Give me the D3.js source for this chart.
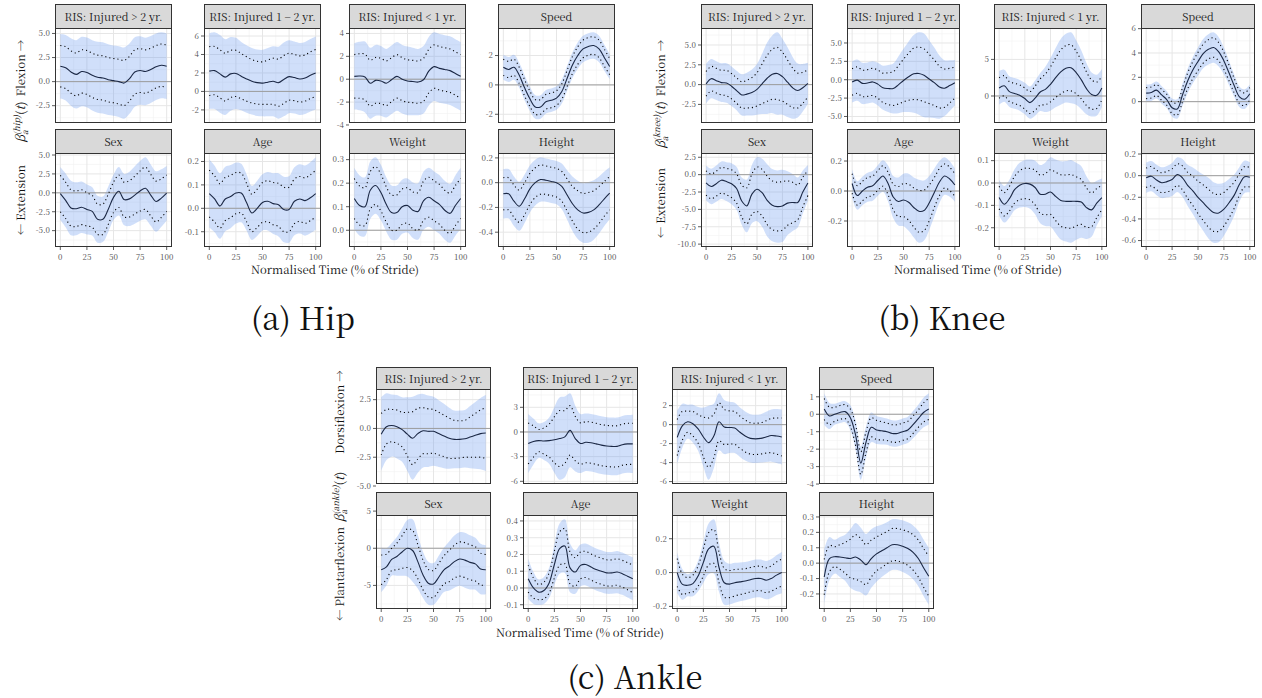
<!DOCTYPE html>
<html lang="en">
<head>
<meta charset="UTF-8">
<title>Functional regression coefficients</title>
<script src="https://cdnjs.cloudflare.com/ajax/libs/d3/7.8.5/d3.min.js"></script>
<style>
  body { margin: 0; background: #fff; }
  svg { display: block; }
</style>
</head>
<body>
<svg id="fig" width="1262" height="698"></svg>
<script>
// normalised stride positions (% of stride)
const stride = [0, 5, 10, 15, 20, 25, 30, 35, 40, 45, 50, 55, 60, 65, 70, 75, 80, 85, 90, 95, 100];
const facetLabels = ["RIS: Injured > 2 yr.", "RIS: Injured 1 \u2212 2 yr.", "RIS: Injured < 1 yr.", "Speed",
                     "Sex", "Age", "Weight", "Height"];

// ---- hip: coefficient estimate, pointwise half-width, simultaneous half-width
const hipMean = [
  [1.6,1.45,1.0,0.75,1.05,0.95,0.65,0.45,0.38,0.2,0.1,0.0,-0.15,0.3,1.0,1.15,1.05,1.25,1.55,1.7,1.6],
  [2.2,2.25,1.9,1.55,1.9,1.95,1.65,1.35,1.1,0.95,0.9,1.0,1.1,0.95,1.3,1.6,1.5,1.35,1.45,1.75,2.0],
  [0.25,0.28,0.2,-0.35,-0.1,-0.15,-0.35,-0.05,0.25,0.0,-0.15,-0.2,-0.25,-0.05,0.7,1.1,0.95,0.85,0.75,0.5,0.25],
  [1.2,1.05,1.2,0.65,-0.2,-0.95,-1.5,-1.5,-1.15,-1.05,-0.9,-0.45,0.45,1.35,2.0,2.45,2.62,2.68,2.45,1.85,1.25],
  [-0.1,-1.0,-2.0,-2.1,-1.9,-2.2,-2.45,-3.5,-3.5,-2.2,-0.6,0.2,-0.9,-0.8,-0.3,0.25,0.6,-0.3,-1.15,-0.7,-0.05],
  [0.063,0.04,0.01,0.04,0.05,0.065,0.065,0.025,-0.02,0.0,0.025,0.03,0.02,0.015,-0.005,-0.005,0.03,0.04,0.033,0.045,0.063],
  [0.135,0.105,0.1,0.17,0.19,0.16,0.11,0.075,0.075,0.1,0.105,0.085,0.08,0.125,0.14,0.125,0.11,0.085,0.072,0.105,0.135],
  [-0.09,-0.09,-0.15,-0.19,-0.13,-0.05,0.0,0.025,0.02,0.01,0.0,-0.03,-0.1,-0.17,-0.22,-0.245,-0.24,-0.22,-0.18,-0.13,-0.085]
];
const hipPW = [
  [2.15,2.18,2.2,2.22,2.25,2.28,2.3,2.3,2.3,2.3,2.3,2.32,2.35,2.32,2.3,2.28,2.25,2.22,2.2,2.2,2.2],
  [2.65,2.62,2.6,2.58,2.55,2.5,2.45,2.4,2.35,2.32,2.3,2.4,2.5,2.55,2.6,2.55,2.5,2.5,2.5,2.52,2.55],
  [1.9,1.95,2.0,2.0,2.0,1.98,1.95,1.92,1.9,1.88,1.85,1.85,1.85,1.88,1.9,1.9,1.9,1.9,1.9,1.9,1.9],
  [0.55,0.55,0.55,0.55,0.55,0.52,0.5,0.5,0.5,0.5,0.5,0.52,0.55,0.58,0.6,0.6,0.6,0.6,0.6,0.58,0.55],
  [2.4,2.4,2.4,2.35,2.3,2.2,2.1,2.0,2.0,2.0,2.0,2.15,2.3,2.4,2.5,2.65,2.8,2.75,2.7,2.55,2.4],
  [0.1,0.098,0.095,0.092,0.09,0.088,0.085,0.082,0.08,0.082,0.085,0.088,0.09,0.092,0.095,0.095,0.095,0.096,0.097,0.098,0.1],
  [0.085,0.083,0.08,0.08,0.08,0.078,0.075,0.075,0.075,0.075,0.075,0.078,0.08,0.083,0.085,0.085,0.085,0.085,0.085,0.085,0.085],
  [0.13,0.13,0.13,0.13,0.13,0.125,0.12,0.118,0.115,0.115,0.115,0.12,0.13,0.14,0.155,0.158,0.16,0.155,0.15,0.14,0.135]
];
const hipSW = [
  [3.35,3.4,3.5,3.55,3.6,3.62,3.65,3.68,3.7,3.68,3.65,3.68,3.7,3.65,3.6,3.55,3.5,3.48,3.45,3.42,3.4],
  [4.1,4.15,4.2,4.1,4.0,3.85,3.7,3.65,3.6,3.6,3.6,3.7,3.8,3.9,4.0,3.95,3.9,3.9,3.9,3.92,3.95],
  [2.9,3.0,3.1,3.1,3.1,3.05,3.0,3.0,3.0,3.0,3.0,2.95,2.9,2.95,3.0,3.0,3.0,3.0,3.0,3.0,3.0],
  [0.85,0.85,0.85,0.85,0.85,0.82,0.8,0.8,0.8,0.8,0.8,0.82,0.85,0.88,0.9,0.9,0.9,0.9,0.9,0.88,0.85],
  [3.5,3.55,3.6,3.5,3.4,3.3,3.2,3.1,3.0,3.0,3.0,3.2,3.4,3.6,3.8,3.95,4.1,4.05,4.0,3.8,3.6],
  [0.145,0.142,0.14,0.138,0.135,0.13,0.125,0.12,0.115,0.118,0.12,0.125,0.13,0.135,0.14,0.142,0.145,0.148,0.15,0.152,0.155],
  [0.13,0.128,0.125,0.122,0.12,0.118,0.115,0.115,0.115,0.115,0.115,0.118,0.12,0.123,0.125,0.125,0.125,0.125,0.125,0.128,0.13],
  [0.2,0.2,0.2,0.198,0.195,0.19,0.185,0.18,0.175,0.175,0.175,0.185,0.2,0.22,0.235,0.24,0.245,0.24,0.23,0.22,0.21]
];
const hipTicks = [
  ["-2.5","0.0","2.5","5.0"], ["-2","0","2","4","6"], ["-4","-2","0","2","4"], ["-2","0","2"],
  ["-5.0","-2.5","0.0","2.5","5.0"], ["-0.1","0.0","0.1","0.2"], ["0.0","0.1","0.2","0.3"], ["-0.4","-0.2","0.0","0.2"]
];

// ---- knee
const kneeMean = [
  [0.1,0.75,0.5,0.25,0.2,-0.2,-0.75,-1.3,-1.2,-1.0,-0.6,0.1,0.8,1.3,1.4,1.0,0.3,-0.4,-0.75,-0.4,0.15],
  [-0.3,-0.05,-0.5,-0.45,-0.3,-0.6,-1.1,-1.2,-1.2,-0.7,-0.1,0.4,0.8,0.85,0.6,0.1,-0.4,-1.0,-1.15,-0.8,-0.4],
  [1.1,1.4,0.6,0.35,0.1,-0.35,-0.9,-0.3,0.55,0.9,1.6,2.5,3.3,3.8,3.85,3.2,2.2,1.0,0.2,0.1,1.1],
  [0.7,0.75,0.95,0.55,0.15,-0.5,-0.6,0.55,1.7,2.6,3.3,3.95,4.3,4.45,4.1,3.35,2.35,1.3,0.4,0.2,0.65],
  [-1.2,-1.7,-1.3,-0.8,-1.0,-1.3,-2.0,-3.8,-4.5,-2.8,-2.1,-2.6,-3.7,-4.4,-4.6,-4.5,-4.1,-4.0,-4.0,-2.5,-1.2],
  [0.05,-0.03,0.0,0.025,0.035,0.07,0.1,0.05,-0.04,-0.07,-0.06,-0.075,-0.11,-0.135,-0.13,-0.08,-0.01,0.06,0.1,0.08,0.04],
  [-0.065,-0.095,-0.07,-0.03,-0.01,-0.002,-0.005,-0.02,-0.05,-0.05,-0.04,-0.06,-0.078,-0.082,-0.082,-0.082,-0.085,-0.11,-0.12,-0.09,-0.065],
  [-0.02,-0.005,-0.04,-0.065,-0.055,-0.035,0.01,-0.02,-0.09,-0.14,-0.2,-0.25,-0.3,-0.34,-0.345,-0.31,-0.25,-0.18,-0.08,-0.01,-0.015]
];
const kneePW = [
  [1.55,1.55,1.55,1.55,1.6,1.6,1.6,1.65,1.75,1.9,2.1,2.5,2.9,3.15,3.3,3.1,2.8,2.5,2.2,1.95,1.7],
  [1.8,1.8,1.8,1.82,1.85,1.92,2.0,2.15,2.3,2.6,2.9,3.2,3.5,3.6,3.6,3.35,3.1,2.85,2.6,2.35,2.1],
  [1.4,1.38,1.35,1.38,1.4,1.45,1.5,1.65,1.8,2.1,2.4,2.7,3.0,3.1,3.15,2.9,2.6,2.3,2.0,1.8,1.6],
  [0.45,0.45,0.45,0.45,0.45,0.48,0.5,0.58,0.65,0.7,0.75,0.78,0.8,0.8,0.75,0.7,0.65,0.6,0.55,0.52,0.5],
  [1.75,1.78,1.8,1.85,1.9,2.0,2.1,2.3,2.6,2.9,3.2,3.35,3.5,3.5,3.5,3.5,3.2,2.9,2.5,2.15,1.8],
  [0.065,0.065,0.065,0.065,0.065,0.066,0.068,0.075,0.085,0.1,0.11,0.12,0.13,0.14,0.135,0.12,0.1,0.09,0.08,0.078,0.075],
  [0.05,0.052,0.055,0.06,0.065,0.068,0.07,0.078,0.085,0.092,0.1,0.108,0.115,0.118,0.12,0.11,0.1,0.088,0.075,0.065,0.055],
  [0.09,0.09,0.09,0.092,0.095,0.098,0.1,0.11,0.12,0.135,0.15,0.165,0.175,0.175,0.17,0.155,0.14,0.12,0.1,0.095,0.09]
];
const kneeSW = [
  [2.5,2.48,2.45,2.45,2.5,2.5,2.5,2.6,2.7,2.9,3.2,3.8,4.5,4.9,5.2,4.8,4.4,3.9,3.4,3.0,2.6],
  [2.8,2.8,2.8,2.8,2.8,2.9,3.0,3.2,3.4,3.85,4.3,4.8,5.3,5.6,5.7,5.25,4.8,4.3,3.8,3.45,3.1],
  [2.3,2.2,2.1,2.1,2.1,2.15,2.2,2.4,2.6,3.1,3.6,4.05,4.5,4.7,4.85,4.4,4.0,3.5,3.0,2.8,2.6],
  [0.7,0.7,0.7,0.72,0.7,0.75,0.8,0.9,1.0,1.08,1.15,1.2,1.25,1.25,1.2,1.1,1.0,0.92,0.85,0.8,0.75],
  [2.5,2.55,2.6,2.7,2.8,2.95,3.1,3.4,3.8,4.2,4.6,4.9,5.2,5.2,5.2,5.2,4.6,4.1,3.6,3.1,2.6],
  [0.095,0.095,0.095,0.097,0.1,0.102,0.105,0.12,0.14,0.16,0.175,0.19,0.2,0.21,0.2,0.18,0.16,0.14,0.125,0.118,0.11],
  [0.08,0.082,0.085,0.092,0.1,0.105,0.11,0.12,0.13,0.142,0.155,0.165,0.175,0.18,0.185,0.172,0.16,0.14,0.12,0.1,0.085],
  [0.14,0.14,0.14,0.142,0.145,0.152,0.16,0.175,0.19,0.215,0.24,0.26,0.28,0.28,0.27,0.245,0.22,0.19,0.16,0.15,0.14]
];
const kneeTicks = [
  ["-2.5","0.0","2.5","5.0"], ["-5.0","-2.5","0.0","2.5","5.0"], ["0","5"], ["0","2","4","6"],
  ["-10.0","-7.5","-5.0","-2.5","0.0","2.5"], ["-0.2","0.0","0.2"], ["-0.2","-0.1","0.0","0.1"], ["-0.6","-0.4","-0.2","0.0","0.2"]
];

// ---- ankle
const ankleMean = [
  [-0.5,0.15,0.25,0.15,-0.1,-0.5,-0.85,-0.45,-0.2,-0.25,-0.25,-0.45,-0.65,-0.85,-0.95,-0.95,-0.9,-0.75,-0.6,-0.45,-0.4],
  [-1.4,-1.15,-1.05,-1.1,-1.05,-0.95,-0.8,-0.6,0.2,-0.8,-1.4,-1.25,-1.3,-1.45,-1.6,-1.7,-1.75,-1.75,-1.55,-1.45,-1.45],
  [-1.35,-0.1,0.3,0.1,-0.45,-1.3,-1.9,-1.2,0.3,-0.25,-0.3,-0.35,-0.8,-1.2,-1.45,-1.5,-1.45,-1.3,-1.15,-1.2,-1.3],
  [0.3,-0.1,0.0,0.1,0.15,-0.2,-1.2,-2.8,-1.6,-0.75,-0.9,-0.95,-1.0,-1.1,-1.1,-1.0,-0.9,-0.6,-0.25,0.1,0.3],
  [-2.9,-2.5,-1.5,-1.1,-0.5,0.0,-0.3,-1.8,-3.6,-4.7,-4.8,-3.9,-2.9,-2.4,-1.8,-1.45,-1.6,-1.9,-2.1,-2.8,-2.9],
  [0.055,0.0,-0.025,-0.015,0.03,0.14,0.235,0.25,0.12,0.095,0.135,0.14,0.125,0.11,0.1,0.09,0.09,0.095,0.085,0.07,0.055],
  [0.0,-0.07,-0.075,-0.065,-0.02,0.06,0.14,0.155,0.03,-0.06,-0.068,-0.06,-0.055,-0.05,-0.042,-0.035,-0.035,-0.045,-0.035,-0.015,0.0],
  [-0.09,0.03,0.042,0.04,0.035,0.03,0.04,0.02,-0.01,0.03,0.06,0.08,0.1,0.12,0.12,0.11,0.095,0.07,0.03,-0.03,-0.085]
];
const anklePW = [
  [1.8,1.5,1.4,1.45,1.5,1.9,2.3,2.2,2.0,1.95,1.9,1.85,1.8,1.75,1.65,1.62,1.6,1.75,1.9,2.05,2.2],
  [2.5,1.9,1.35,1.6,2.0,2.8,3.4,3.2,3.0,2.7,2.5,2.5,2.5,2.5,2.5,2.5,2.5,2.5,2.5,2.5,2.5],
  [1.9,1.5,1.1,1.3,1.5,2.1,2.6,2.3,2.0,1.85,1.75,1.72,1.7,1.68,1.65,1.65,1.65,1.7,1.8,1.9,2.0],
  [0.6,0.5,0.4,0.4,0.4,0.5,0.6,0.65,0.6,0.55,0.55,0.52,0.5,0.5,0.5,0.5,0.5,0.5,0.5,0.55,0.6],
  [2.0,1.7,1.5,1.8,2.2,2.6,2.7,2.3,2.0,1.85,1.8,1.85,1.9,2.1,2.2,2.3,2.35,2.35,2.3,2.15,2.05],
  [0.08,0.06,0.045,0.05,0.06,0.08,0.1,0.105,0.095,0.085,0.08,0.078,0.078,0.078,0.078,0.078,0.078,0.079,0.08,0.081,0.082],
  [0.082,0.06,0.045,0.05,0.06,0.08,0.095,0.1,0.09,0.085,0.08,0.078,0.075,0.073,0.072,0.072,0.072,0.073,0.075,0.078,0.08],
  [0.115,0.085,0.065,0.08,0.1,0.125,0.145,0.14,0.13,0.12,0.11,0.108,0.105,0.105,0.105,0.107,0.11,0.115,0.12,0.125,0.13]
];
const ankleSW = [
  [3.2,2.9,2.7,2.75,2.8,3.2,3.6,3.4,3.2,3.1,3.0,2.9,2.8,2.65,2.5,2.5,2.5,2.7,2.9,3.1,3.3],
  [3.6,2.8,2.1,2.3,2.8,4.0,5.0,4.9,4.5,4.0,3.6,3.5,3.5,3.5,3.5,3.5,3.5,3.5,3.5,3.5,3.55],
  [2.8,2.3,1.8,2.0,2.3,3.1,3.9,3.4,3.0,2.85,2.7,2.65,2.6,2.58,2.55,2.55,2.55,2.65,2.75,2.85,2.9],
  [0.9,0.75,0.6,0.6,0.6,0.72,0.85,0.95,0.9,0.85,0.8,0.78,0.75,0.75,0.75,0.75,0.75,0.78,0.8,0.85,0.9],
  [3.0,2.5,2.2,2.6,3.2,3.8,4.2,3.6,3.1,2.9,2.8,2.9,3.0,3.3,3.5,3.6,3.7,3.65,3.5,3.4,3.3],
  [0.12,0.095,0.075,0.08,0.09,0.12,0.15,0.16,0.145,0.13,0.125,0.125,0.125,0.125,0.125,0.125,0.125,0.126,0.126,0.127,0.128],
  [0.12,0.09,0.065,0.075,0.09,0.12,0.15,0.16,0.145,0.13,0.12,0.118,0.115,0.113,0.112,0.112,0.112,0.113,0.115,0.118,0.122],
  [0.18,0.14,0.11,0.13,0.15,0.19,0.22,0.21,0.2,0.19,0.18,0.17,0.165,0.165,0.165,0.168,0.17,0.175,0.18,0.183,0.185]
];
const ankleTicks = [
  ["-5.0","-2.5","0.0","2.5"], ["-6","-3","0","3"], ["-6","-4","-2","0","2"], ["-4","-3","-2","-1","0","1"],
  ["-5","0","5"], ["-0.1","0.0","0.1","0.2","0.3","0.4"], ["-0.2","0.0","0.2"], ["-0.2","-0.1","0.0","0.1","0.2","0.3"]
];
const xTicks = [0, 25, 50, 75, 100];

// layout of the three sub-figures
const figures = [
  { joint: "hip", mean: hipMean, pw: hipPW, sw: hipSW, ticks: hipTicks,
    cols: [[55,172],[204,321],[349,466],[498,615]], rows: [[4,28,123],[129,153,247]],
    labX: 25, posLab: ["Flexion \u2192", 68], negLab: ["\u2190 Extension", 200], betaY: 122,
    xTitle: [335, 274], caption: ["(a) Hip", 303, 330] },
  { joint: "knee", mean: kneeMean, pw: kneePW, sw: kneeSW, ticks: kneeTicks,
    cols: [[701,813],[847,960],[994,1107],[1141,1255]], rows: [[4,28,123],[129,153,247]],
    labX: 665, posLab: ["Flexion \u2192", 68], negLab: ["\u2190 Extension", 203], betaY: 125,
    xTitle: [978, 274], caption: ["(b) Knee", 942, 330] },
  { joint: "ankle", mean: ankleMean, pw: anklePW, sw: ankleSW, ticks: ankleTicks,
    cols: [[376,491],[523,638],[672,787],[819,934]], rows: [[367,389,484],[492,515,609]],
    labX: 344, posLab: ["Dorsiflexion \u2192", 412], negLab: ["\u2190 Plantarflexion", 574], betaY: 497,
    xTitle: [580, 637], caption: ["(c) Ankle", 635, 689] }
];

const FONT = '"Noto Serif CJK SC", "Liberation Serif", serif';
const svg = d3.select("#fig").style("font-family", FONT);
const curve = d3.curveCatmullRom.alpha(0.5);
let clipId = 0;

function drawPanel(root, box, label, mean, pw, sw, tickLabels, showX) {
  const g = root.append("g");
  const x = d3.scaleLinear().domain([-5, 105]).range([box.x0, box.x1]);
  const lo = d3.min(mean.map((m, i) => m - sw[i]));
  const hi = d3.max(mean.map((m, i) => m + sw[i]));
  const pad = (hi - lo) * 0.05;
  const y = d3.scaleLinear().domain([lo - pad, hi + pad]).range([box.y1, box.y0]);
  const ticks = tickLabels.map(Number);
  const step = ticks[1] - ticks[0];
  const minorY = d3.range(ticks[0] - step / 2, hi + pad, step).filter(v => v > lo - pad);

  const id = "clip" + (clipId++);
  g.append("clipPath").attr("id", id).append("rect")
    .attr("x", box.x0).attr("y", box.y0).attr("width", box.x1 - box.x0).attr("height", box.y1 - box.y0);

  g.append("rect").attr("x", box.x0).attr("y", box.y0)
    .attr("width", box.x1 - box.x0).attr("height", box.y1 - box.y0).attr("fill", "#fff");

  const grid = g.append("g").attr("clip-path", `url(#${id})`);
  grid.selectAll(".mx").data([12.5, 37.5, 62.5, 87.5]).join("line").attr("class", "mx")
    .attr("x1", d => x(d)).attr("x2", d => x(d)).attr("y1", box.y0).attr("y2", box.y1)
    .attr("stroke", "#f2f2f2").attr("stroke-width", 0.6);
  grid.selectAll(".my").data(minorY).join("line").attr("class", "my")
    .attr("x1", box.x0).attr("x2", box.x1).attr("y1", d => y(d)).attr("y2", d => y(d))
    .attr("stroke", "#f2f2f2").attr("stroke-width", 0.6);
  grid.selectAll(".gx").data(xTicks).join("line").attr("class", "gx")
    .attr("x1", d => x(d)).attr("x2", d => x(d)).attr("y1", box.y0).attr("y2", box.y1)
    .attr("stroke", "#e6e6e6").attr("stroke-width", 1);
  grid.selectAll(".gy").data(ticks).join("line").attr("class", "gy")
    .attr("x1", box.x0).attr("x2", box.x1).attr("y1", d => y(d)).attr("y2", d => y(d))
    .attr("stroke", "#e6e6e6").attr("stroke-width", 1);

  const plot = g.append("g").attr("clip-path", `url(#${id})`);
  const band = d3.area().curve(curve)
    .x((d, i) => x(stride[i]))
    .y0((d, i) => y(d - sw[i]))
    .y1((d, i) => y(d + sw[i]));
  plot.append("path").attr("d", band(mean)).attr("fill", "#6495ed").attr("fill-opacity", 0.3);

  plot.append("line").attr("x1", box.x0).attr("x2", box.x1).attr("y1", y(0)).attr("y2", y(0))
    .attr("stroke", "#9e9e9e").attr("stroke-width", 1);

  const line = d3.line().curve(curve).x((d, i) => x(stride[i])).y(d => y(d));
  [1, -1].forEach(s => {
    plot.append("path").attr("d", line(mean.map((m, i) => m + s * pw[i])))
      .attr("fill", "none").attr("stroke", "#000").attr("stroke-width", 1.1)
      .attr("stroke-dasharray", "1.1 3");
  });
  plot.append("path").attr("d", line(mean)).attr("fill", "none")
    .attr("stroke", "#1b2845").attr("stroke-width", 1.1);

  g.append("rect").attr("x", box.x0 + 0.5).attr("y", box.y0 + 0.5)
    .attr("width", box.x1 - box.x0 - 1).attr("height", box.y1 - box.y0 - 1)
    .attr("fill", "none").attr("stroke", "#333").attr("stroke-width", 1);

  // y axis
  g.selectAll(".yt").data(ticks).join("line").attr("class", "yt")
    .attr("x1", box.x0 - 3).attr("x2", box.x0).attr("y1", d => y(d)).attr("y2", d => y(d))
    .attr("stroke", "#333").attr("stroke-width", 0.8);
  g.selectAll(".yl").data(tickLabels).join("text").attr("class", "yl")
    .attr("x", box.x0 - 5).attr("y", d => y(+d)).attr("dy", "0.35em")
    .attr("text-anchor", "end").attr("font-size", 8).attr("fill", "#4d4d4d").text(d => d);

  // strip
  g.append("rect").attr("x", box.x0 + 0.5).attr("y", box.s0 + 0.5)
    .attr("width", box.x1 - box.x0 - 1).attr("height", box.y0 - box.s0)
    .attr("fill", "#d9d9d9").attr("stroke", "#333").attr("stroke-width", 1);
  g.append("text").attr("x", (box.x0 + box.x1) / 2).attr("y", (box.s0 + box.y0) / 2 + 1)
    .attr("dy", "0.35em").attr("text-anchor", "middle").attr("font-size", 10.8)
    .attr("fill", "#1a1a1a").text(label);

  if (showX) {
    g.selectAll(".xt").data(xTicks).join("line").attr("class", "xt")
      .attr("x1", d => x(d)).attr("x2", d => x(d)).attr("y1", box.y1).attr("y2", box.y1 + 3)
      .attr("stroke", "#333").attr("stroke-width", 0.8);
    g.selectAll(".xl").data(xTicks).join("text").attr("class", "xl")
      .attr("x", d => x(d)).attr("y", box.y1 + 13).attr("text-anchor", "middle")
      .attr("font-size", 8).attr("fill", "#4d4d4d").text(d => d);
  }
}

function betaLabel(root, cx, cy, joint) {
  const g = root.append("g").attr("transform", `translate(${cx},${cy}) rotate(-90)`);
  const t = g.append("text").attr("text-anchor", "middle").attr("font-size", 12.5).attr("fill", "#111");
  t.append("tspan").attr("font-style", "italic").text("\u03b2");
  const sup = t.append("tspan").attr("font-size", 8.5).attr("font-style", "italic").attr("dy", -5).text(`(${joint})`);
  const supW = sup.node().getComputedTextLength();
  const sub = t.append("tspan").attr("font-size", 8.5).attr("font-style", "italic").attr("dy", 8).attr("dx", -supW).text("a");
  const subW = sub.node().getComputedTextLength();
  t.append("tspan").attr("dy", -3).attr("dx", supW - subW).text("(");
  t.append("tspan").attr("font-style", "italic").text("t");
  t.append("tspan").text(")");
}

figures.forEach(f => {
  const root = svg.append("g").attr("class", f.joint);
  facetLabels.forEach((lab, k) => {
    const c = f.cols[k % 4], r = f.rows[Math.floor(k / 4)];
    drawPanel(root, { x0: c[0], x1: c[1], s0: r[0], y0: r[1], y1: r[2] },
      lab, f.mean[k], f.pw[k], f.sw[k], f.ticks[k], k >= 4);
  });

  [f.posLab, f.negLab].forEach(([txt, cy]) => {
    root.append("text").attr("transform", `translate(${f.labX},${cy}) rotate(-90)`)
      .attr("text-anchor", "middle").attr("font-size", 11.5).attr("fill", "#111").text(txt);
  });
  betaLabel(root, f.labX, f.betaY, f.joint);

  root.append("text").attr("x", f.xTitle[0]).attr("y", f.xTitle[1]).attr("text-anchor", "middle")
    .attr("font-size", 11.4).attr("fill", "#111").text("Normalised Time (% of Stride)");
  root.append("text").attr("x", f.caption[1]).attr("y", f.caption[2]).attr("text-anchor", "middle")
    .attr("font-size", 31).attr("fill", "#111").text(f.caption[0]);
});
</script>
</body>
</html>
